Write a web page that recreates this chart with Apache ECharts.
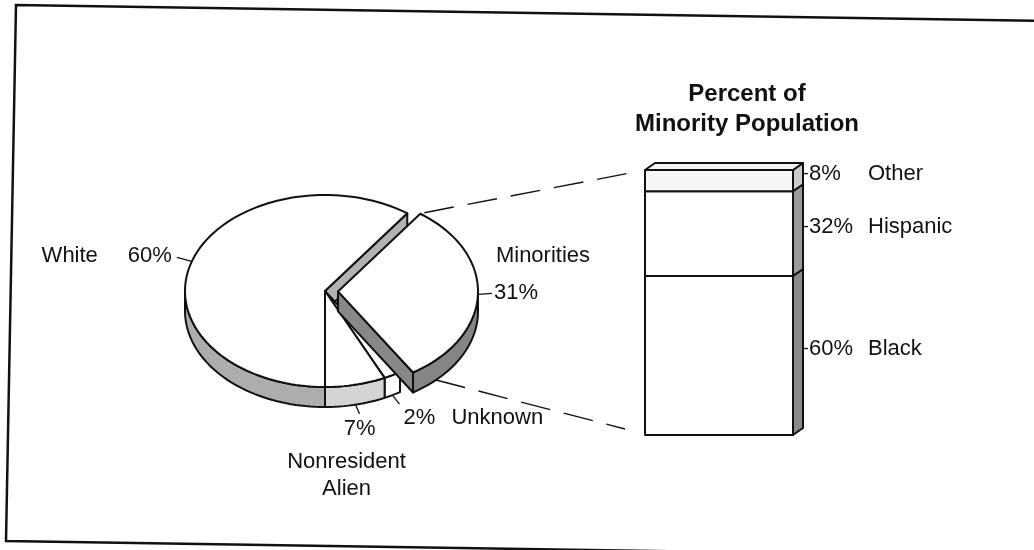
<!DOCTYPE html>
<html>
<head>
<meta charset="utf-8">
<script src="https://cdn.jsdelivr.net/npm/echarts@6/dist/echarts.min.js"></script>
<style>
  html, body { margin: 0; padding: 0; background: #fff; }
  #chart { width: 1034px; height: 550px; }
</style>
</head>
<body>
<div id="chart"></div>
<script>
// pie: slices listed clockwise starting at 6 o'clock
const pieCategories = ['White', 'Minorities', 'Unknown', 'Nonresident Alien']
const pieValues = [60, 31, 2, 7]
// stacked bar: breakdown of the minority slice, bottom to top
const minorityGroups = ['Black', 'Hispanic', 'Other']
const minorityShares = [60, 32, 8]
const minorityAxis = ['Minorities']

const FONT = '"Liberation Sans", Arial, Helvetica, sans-serif'
const INK = '#111'
const RX = 140, RY = 96, DEPTH = 20, CX = 325, CY = 291, EXPLODE = 13
const START_ANGLE = 90
const explodedSlice = 'Minorities'
const BAR = { left: 645, top: 170, width: 148, height: 265, dx: 10, dy: 7 }

// shading + label placement (offsets from the leader tick end)
const sliceStyle = {
  'White': { rim: '#adadad', face: '#b2b2b2', tick: [-15, -4], pct: [-5, -1, 'right'], name: [-79, -1, 'right'] },
  'Minorities': { rim: '#858585', face: '#888888', tick: [14, -1], pct: [2, 0, 'left'], name: [4, -37, 'left'] },
  'Unknown': { rim: '#ffffff', face: '#ffffff', tick: [7, 9], pct: [4, 14, 'left'], name: [52, 14, 'left'] },
  'Nonresident Alien': { rim: '#d4d4d4', face: '#d4d4d4', tick: [4, 9], pct: [0, 15, 'center'], name: [-13, 62, 'center'], wrap: true }
}
const segmentStyle = {
  'Black': { front: '#ffffff', side: '#8a8a8a' },
  'Hispanic': { front: '#ffffff', side: '#999999' },
  'Other': { front: '#f6f6f6', side: '#cccccc' }
}

const total = pieValues.reduce((a, b) => a + b, 0)
const angles = [START_ANGLE]
pieValues.forEach((v, i) => angles.push(angles[i] + v / total * 360))

const cosd = a => Math.cos(a * Math.PI / 180)
const sind = a => Math.sin(a * Math.PI / 180)
function ept (cx, cy, a, dy) {
  return [cx + RX * cosd(a), cy + RY * sind(a) + (dy || 0)]
}
function arc (cx, cy, a0, a1, dy) {
  const steps = Math.max(2, Math.ceil(Math.abs(a1 - a0) / 2))
  const pts = []
  for (let k = 0; k <= steps; k++) pts.push(ept(cx, cy, a0 + (a1 - a0) * k / steps, dy))
  return pts
}
function text (str, x, y, align, opts) {
  return Object.assign({
    type: 'text',
    style: {
      text: str, x, y,
      fill: INK, fontSize: 22, fontFamily: FONT,
      align, verticalAlign: 'middle',
      textAlign: align, textVerticalAlign: 'middle'
    }
  }, opts || {})
}
const lineStyle = { stroke: INK, lineWidth: 2, lineJoin: 'round' }

function renderSlice (params, api) {
  const i = params.dataIndex
  const n = pieCategories.length
  const name = pieCategories[i]
  const st = sliceStyle[name]
  const a0 = angles[i], a1 = angles[i + 1]
  const mid = (a0 + a1) / 2
  const exploded = name === explodedSlice
  const prevExploded = pieCategories[(i - 1 + n) % n] === explodedSlice
  const nextExploded = pieCategories[(i + 1) % n] === explodedSlice
  const cx = CX + (exploded ? EXPLODE * cosd(mid) : 0)
  const cy = CY + (exploded ? EXPLODE * sind(mid) : 0)
  const base = exploded ? 20 : (i === 0 ? 0 : 6)
  const children = []

  // outer rim, only where it faces the viewer
  ;[[0, 180], [360, 540]].forEach(([lo, hi]) => {
    const s = Math.max(a0, lo), e = Math.min(a1, hi)
    if (e <= s) return
    children.push({
      type: 'polygon', z2: base,
      shape: { points: arc(cx, cy, s, e, 0).concat(arc(cx, cy, e, s, DEPTH)) },
      style: Object.assign({ fill: st.rim }, lineStyle)
    })
  })
  // cut faces next to the pulled-out slice
  if ((exploded || nextExploded) && cosd(a1) > 0) {
    children.push({
      type: 'polygon', z2: base + 1,
      shape: { points: [[cx, cy], ept(cx, cy, a1), ept(cx, cy, a1, DEPTH), [cx, cy + DEPTH]] },
      style: Object.assign({ fill: st.face }, lineStyle)
    })
  }
  if ((exploded || prevExploded) && cosd(a0) < 0) {
    children.push({
      type: 'polygon', z2: base + 1,
      shape: { points: [[cx, cy], ept(cx, cy, a0), ept(cx, cy, a0, DEPTH), [cx, cy + DEPTH]] },
      style: Object.assign({ fill: st.face }, lineStyle)
    })
  }
  // top face
  children.push({
    type: 'polygon', z2: base + 2,
    shape: { points: [[cx, cy]].concat(arc(cx, cy, a0, a1, 0)) },
    style: Object.assign({ fill: '#fff' }, lineStyle)
  })

  // leader tick + labels
  const p = ept(cx, cy, mid, sind(mid) > 0.3 ? DEPTH : 0)
  const t = [p[0] + st.tick[0], p[1] + st.tick[1]]
  children.push({
    type: 'line', z2: base + 3,
    shape: { x1: p[0], y1: p[1], x2: t[0], y2: t[1] },
    style: { stroke: INK, lineWidth: 1.3 }
  })
  children.push(text(api.value(0) + '%', t[0] + st.pct[0], t[1] + st.pct[1], st.pct[2], { z2: base + 3 }))
  const label = st.wrap ? name.replace(' ', '\n') : name
  const nameEl = text(label, t[0] + st.name[0], t[1] + st.name[1], st.name[2], { z2: base + 3 })
  nameEl.style.lineHeight = 27
  children.push(nameEl)

  // dashed connectors out to the breakdown bar
  if (exploded) {
    const dash = { stroke: INK, lineWidth: 1.4, lineDash: [30, 14] }
    const s1 = ept(cx, cy, a0)
    const s2 = ept(cx, cy, a1 - 12, DEPTH)
    children.push({
      type: 'line', z2: base + 3,
      shape: { x1: s1[0] + 4, y1: s1[1] - 1, x2: BAR.left - 10, y2: BAR.top + 2 },
      style: dash
    })
    children.push({
      type: 'line', z2: base + 3,
      shape: { x1: s2[0], y1: s2[1], x2: BAR.left - 20, y2: BAR.top + BAR.height - 6 },
      style: dash
    })
  }
  return { type: 'group', children }
}

let cum = 0
const barData = minorityShares.map((v, i) => {
  const item = [0, cum, cum + v, v, i]
  cum += v
  return item
})

function renderSegment (params, api) {
  const i = params.dataIndex
  const name = minorityGroups[i]
  const st = segmentStyle[name]
  const top = api.coord([api.value(0), api.value(2)])
  const bottom = api.coord([api.value(0), api.value(1)])
  const w = api.size([1, 0])[0]
  const xl = top[0] - w / 2, xr = top[0] + w / 2
  const yt = top[1], yb = bottom[1]
  const dx = BAR.dx, dy = BAR.dy
  const children = [
    {
      type: 'rect',
      shape: { x: xl, y: yt, width: w, height: yb - yt },
      style: Object.assign({ fill: st.front }, lineStyle)
    },
    {
      type: 'polygon',
      shape: { points: [[xr, yt], [xr + dx, yt - dy], [xr + dx, yb - dy], [xr, yb]] },
      style: Object.assign({ fill: st.side }, lineStyle)
    }
  ]
  if (i === minorityGroups.length - 1) {
    children.push({
      type: 'polygon',
      shape: { points: [[xl, yt], [xl + dx, yt - dy], [xr + dx, yt - dy], [xr, yt]] },
      style: Object.assign({ fill: '#f4f4f4' }, lineStyle)
    })
  }
  const my = (yt + yb) / 2 - dy
  const sx = xr + dx
  children.push({
    type: 'line',
    shape: { x1: sx, y1: my, x2: sx + 5, y2: my },
    style: { stroke: INK, lineWidth: 1.3 }
  })
  children.push(text(api.value(3) + '%', sx + 6, my, 'left'))
  children.push(text(name, sx + 65, my, 'left'))
  return { type: 'group', children }
}

const chart = echarts.init(document.getElementById('chart'))
chart.setOption({
  animation: false,
  backgroundColor: '#fff',
  title: {
    text: 'Percent of\nMinority Population',
    left: 742,
    top: 74,
    textAlign: 'center',
    textStyle: { fontSize: 24, fontWeight: 'bold', lineHeight: 30, fontFamily: FONT, color: INK }
  },
  grid: { left: BAR.left, top: BAR.top, width: BAR.width, height: BAR.height },
  xAxis: { type: 'category', data: minorityAxis, show: false },
  yAxis: { type: 'value', min: 0, max: 100, show: false },
  graphic: [{
    type: 'polygon',
    silent: true,
    shape: { points: [[16, 5], [1050, 21], [1042, 557], [6, 541]] },
    style: { fill: 'none', stroke: INK, lineWidth: 2.5 }
  }],
  series: [
    {
      type: 'custom',
      name: 'Enrollment',
      coordinateSystem: 'none',
      renderItem: renderSlice,
      data: pieValues.map((v, i) => [v, i])
    },
    {
      type: 'custom',
      name: 'Minority population',
      renderItem: renderSegment,
      encode: { x: 0, y: [1, 2] },
      data: barData
    }
  ]
})
</script>
</body>
</html>
